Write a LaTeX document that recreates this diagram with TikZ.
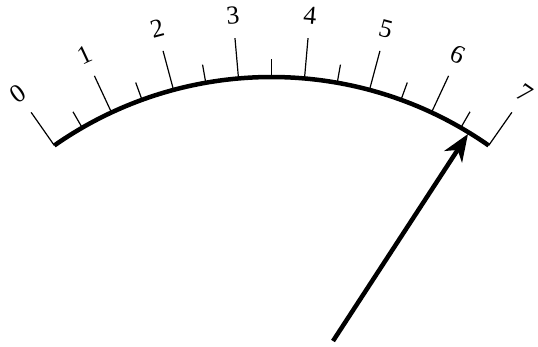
\documentclass[tikz,border=0pt]{standalone}
\usepackage{fontspec}
\setmainfont{Liberation Serif}
\usetikzlibrary{arrows.meta, calc}

\begin{document}
\begin{tikzpicture}[
    x=1pt, y=1pt,
    scalearc/.style={line width=4.5pt},
    majortick/.style={line width=1.2pt},
    minortick/.style={line width=1.2pt},
    scalelabel/.style={font=\fontsize{26}{28}\selectfont, inner sep=0pt},
    needle/.style={line width=4.5pt, -{Stealth[length=27pt, width=21pt, inset=8pt]}}
]
\useasboundingbox (0,0) rectangle (538,-346);
\coordinate (center) at (271.5,-455.6);

% scale arc
\draw[scalearc] (center) ++(125:378.6) arc[start angle=125, end angle=55, radius=378.6];

% major ticks with labels
\foreach \i in {0,...,7} {
    \pgfmathsetmacro{\ang}{125-10*\i}
    \draw[majortick] ($(center)+(\ang:378.6)$) -- ($(center)+(\ang:419)$);
    \node[scalelabel, rotate=\ang-90] (lab\i) at ($(center)+(\ang:442)$) {\i};
}
% minor ticks
\foreach \i in {0,...,6} {
    \pgfmathsetmacro{\ang}{120-10*\i}
    \draw[minortick] ($(center)+(\ang:378.6)$) -- ($(center)+(\ang:397)$);
}

% pointer
\coordinate (base) at (333,-341);
\coordinate (tip) at (468,-134);
\draw[needle] (base) -- (tip);
\end{tikzpicture}
\end{document}
